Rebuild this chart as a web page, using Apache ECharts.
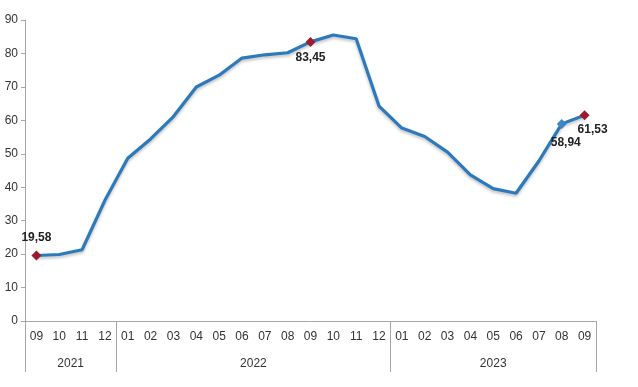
<!DOCTYPE html>
<html><head><meta charset="utf-8">
<script src="https://cdn.jsdelivr.net/npm/echarts@6/dist/echarts.min.js"></script>
<style>html,body{margin:0;padding:0;background:#fff}#c{width:638px;height:387px}</style>
</head><body><div id="c"></div>
<script>
var months = ['09','10','11','12','01','02','03','04','05','06','07','08','09','10','11','12','01','02','03','04','05','06','07','08','09'];
var values = [19.58,19.89,21.31,36.08,48.69,54.44,61.14,69.97,73.50,78.62,79.60,80.21,83.45,85.51,84.39,64.27,57.68,55.18,50.51,43.68,39.59,38.21,47.83,58.94,61.53];
var years = ['2021','2022','2023'];
var yearStart = [0,4,16];
var yearEnd = [4,16,25];
var labelled = [0,12,23,24];

var labelPos = {0:{position:'top',offset:[0,-2]},12:{position:'bottom',offset:[0,0]},23:{position:'bottom',offset:[4,3]},24:{position:'bottom',offset:[8,-2]}};
var markColor = {0:'#9b1b2c',12:'#9b1b2c',23:'#3f86c6',24:'#9b1b2c'};
var data = values.map(function(v,i){
  if (labelled.indexOf(i) < 0) return v;
  return {
    value: v, symbol:'diamond', symbolSize: 10,
    itemStyle:{color: markColor[i]},
    label:{show:true, position: labelPos[i].position, offset: labelPos[i].offset,
      formatter: v.toFixed(2).replace('.',','), fontSize:12, fontWeight:'bold', color:'#222', fontFamily:'Liberation Sans'}
  };
});
var boundaries = yearStart.concat([yearEnd[yearEnd.length-1]]);
var centers = yearStart.map(function(s,i){return (s+yearEnd[i])/2;});

var chart = echarts.init(document.getElementById('c'));
chart.setOption({
  animation:false,
  grid:{left:25,right:42,top:20,bottom:66},
  xAxis:[{
    type:'category', data:months, boundaryGap:true,
    axisLine:{lineStyle:{color:'#a6a6a6',width:1}},
    axisTick:{interval:0,length:24,lineStyle:{color:'#a6a6a6'}},
    axisLabel:{interval:0,margin:10,fontSize:12,color:'#333',fontFamily:'Liberation Sans'}
  },{
    type:'value', position:'bottom', min:0, max:25,
    axisLine:{show:false}, splitLine:{show:false},
    axisTick:{show:true,customValues:boundaries,length:51,lineStyle:{color:'#a6a6a6'}},
    axisLabel:{customValues:centers,margin:37,fontSize:12,color:'#333',fontFamily:'Liberation Sans',
      formatter:function(v){var i=centers.indexOf(v);return i>=0?years[i]:'';}}
  }],
  yAxis:{
    type:'value', min:0, max:90, interval:10,
    axisLine:{show:true,lineStyle:{color:'#a6a6a6'}},
    axisTick:{show:true,length:4,lineStyle:{color:'#a6a6a6'}},
    splitLine:{show:false},
    axisLabel:{margin:7,fontSize:12,color:'#333',fontFamily:'Liberation Sans'}
  },
  series:[{
    type:'line', data:data, symbol:'none', showAllSymbol:true,
    lineStyle:{color:'#2c7abb',width:3.2,shadowColor:'rgba(0,0,0,0.25)',shadowBlur:3,shadowOffsetY:2},
    itemStyle:{color:'#2c7abb'}
  }]
});
</script></body></html>
